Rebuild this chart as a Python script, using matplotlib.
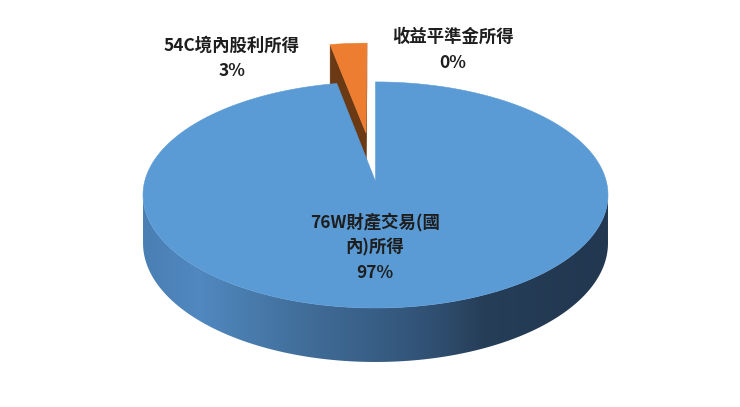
import numpy as np
import matplotlib
matplotlib.use('Agg')
import matplotlib.pyplot as plt
from matplotlib.patches import Polygon
from matplotlib.colors import LinearSegmentedColormap

plt.rcParams['font.family'] = ['Noto Sans CJK TC', 'DejaVu Sans']

# %% data
labels = ['76W財產交易(國\n內)所得', '54C境內股利所得', '收益平準金所得']
values = [97, 3, 0]
explode = [0.0, 0.46, 0.0]

# %% style
top_colors = ['#5b9bd5', '#ed7d31', '#a5a5a5']
side_colors = ['#2f5073', '#6b3914', '#7a7a7a']
# wall shading across the pie, left -> right
wall_stops = [[(0.0, '#4a7fb4'), (0.12, '#5088bf'), (0.36, '#406c97'),
               (0.50, '#385e86'), (0.64, '#2f4e6f'), (0.73, '#263e58'),
               (1.0, '#223750')],
              [(0.0, '#e07530'), (0.5, '#a85520'), (1.0, '#6b3914')],
              [(0.0, '#a0a0a0'), (0.5, '#808080'), (1.0, '#606060')]]
label_pos = [(375, 222), (232, 46), (453, 37)]
line_gap = 25.5

# projection of the pie (pixel space)
CX, CY = 375.5, 181.4
A, B, D = 230.8, 111.4, 47.5
P = 0.12
LEFT, RIGHT = CX - 232.5, CX + 232.5


def proj(u, v, h):
    s = 1.0 / (1.0 - P * v)
    return CX + A * u * s, CY + (B * v + D * h) * s


def d(t):
    return np.sin(t), -np.cos(t)


def facing(nu, nv, qu, qv):
    return nu * (0 - qu) + nv * (1 / P - qv) > 0


fig = plt.figure(figsize=(7.4, 4.07), dpi=100)
ax = fig.add_axes([0, 0, 1, 1])

vals = np.array(values, dtype=float)
shares = vals / vals.sum()
ends = np.cumsum(shares) * 2 * np.pi
starts = ends - shares * 2 * np.pi

slices = []
for i in range(len(values)):
    if shares[i] <= 0:
        continue
    t0, t1 = starts[i], ends[i]
    tm = (t0 + t1) / 2
    ou, ov = explode[i] * np.array(d(tm))
    depth = ov + 0.5 * d(tm)[1]
    slices.append((depth, i, t0, t1, ou, ov))
slices.sort()

grad = np.linspace(0, 1, 600).reshape(1, -1)
z = 1
for depth, i, t0, t1, ou, ov in slices:
    cmap = LinearSegmentedColormap.from_list('w%d' % i, wall_stops[i])
    n = max(8, int(np.degrees(t1 - t0) * 3))
    ts = np.linspace(t0, t1, n + 1)

    # outer wall: contiguous runs of front-facing angles
    vis = [facing(*d(t), ou + d(t)[0], ov + d(t)[1]) for t in ts]
    runs, cur = [], []
    for t, ok in zip(ts, vis):
        if ok:
            cur.append(t)
        elif cur:
            runs.append(cur)
            cur = []
    if cur:
        runs.append(cur)
    for run in runs:
        if len(run) < 2:
            continue
        top = [proj(ou + d(t)[0], ov + d(t)[1], 0) for t in run]
        bot = [proj(ou + d(t)[0], ov + d(t)[1], 1) for t in run[::-1]]
        wall = Polygon(top + bot, closed=True, facecolor='none',
                       edgecolor='none', zorder=z)
        ax.add_patch(wall)
        im = ax.imshow(grad, cmap=cmap, aspect='auto', zorder=z,
                       extent=(LEFT, RIGHT, 407, 0), interpolation='bilinear')
        im.set_clip_path(wall)
    z += 1

    # radial faces
    for t, sgn in ((t0, -1), (t1, 1)):
        nu, nv = sgn * np.cos(t), sgn * np.sin(t)
        mu, mv = ou + 0.5 * d(t)[0], ov + 0.5 * d(t)[1]
        if not facing(nu, nv, mu, mv):
            continue
        pts = [proj(ou, ov, 0), proj(ou + d(t)[0], ov + d(t)[1], 0),
               proj(ou + d(t)[0], ov + d(t)[1], 1), proj(ou, ov, 1)]
        ax.add_patch(Polygon(pts, closed=True, facecolor=side_colors[i],
                             edgecolor=side_colors[i], lw=0.3, zorder=z))
        z += 1

    # top face
    pts = [proj(ou, ov, 0)] + [proj(ou + d(t)[0], ov + d(t)[1], 0) for t in ts]
    ax.add_patch(Polygon(pts, closed=True, facecolor=top_colors[i],
                         edgecolor=top_colors[i], lw=0.4, zorder=z))
    z += 1

# labels
for i in range(len(values)):
    lines = labels[i].split('\n') + ['%d%%' % round(shares[i] * 100)]
    x0, y0 = label_pos[i]
    for k, s in enumerate(lines):
        ax.text(x0, y0 + k * line_gap, s, ha='center', va='center',
                fontsize=12.5, fontweight='bold', color='#1e1e1e', zorder=100)

ax.set_xlim(0, 740)
ax.set_ylim(407, 0)
ax.axis('off')
plt.savefig('out.png', dpi=100)
plt.close(fig)
